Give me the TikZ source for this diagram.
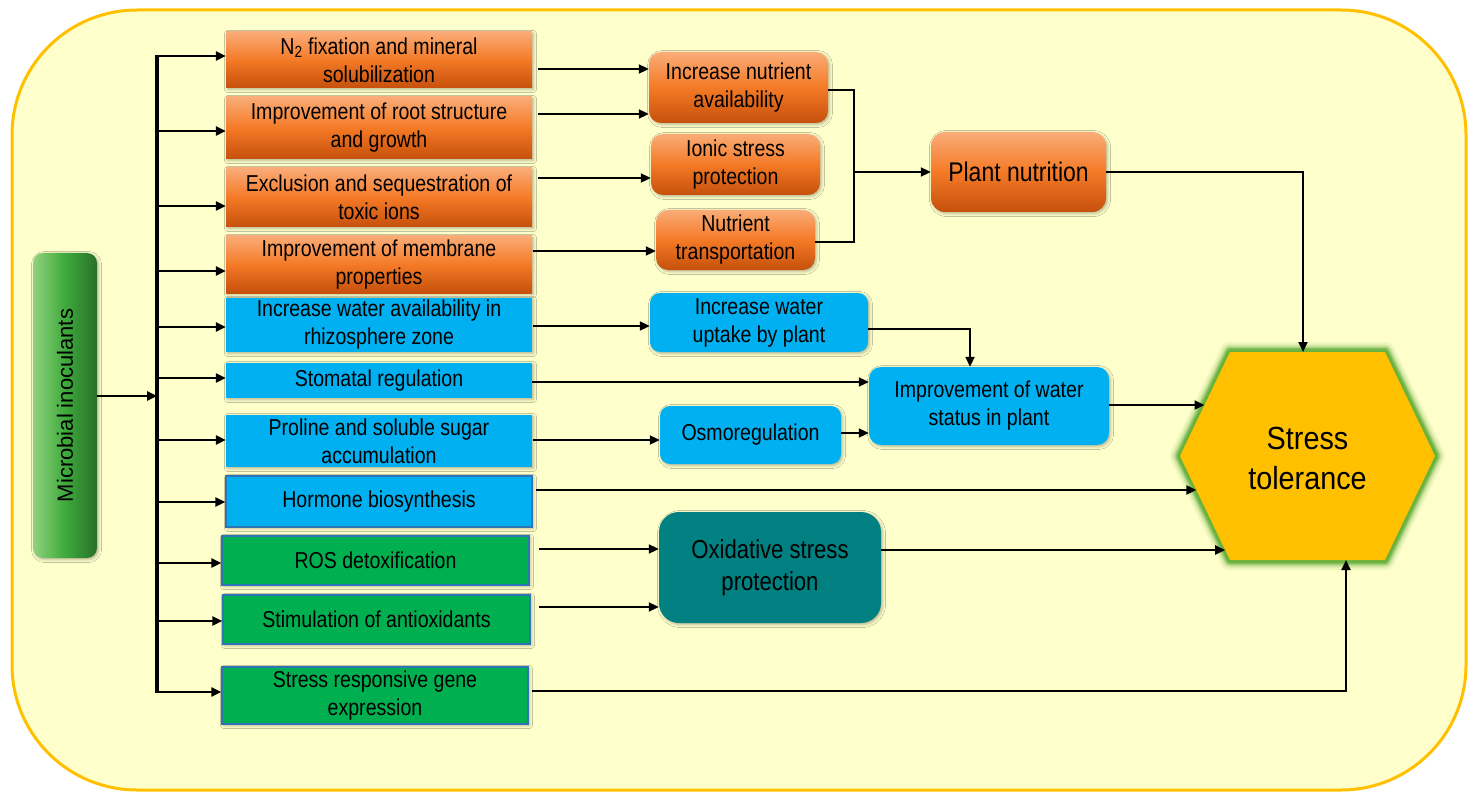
\documentclass[tikz,border=0pt]{standalone}
\usepackage{fontspec}
\setmainfont{Liberation Sans}
\newfontfamily\nar{Liberation Sans}[FakeStretch=0.85]
\newfontfamily\hexfont{Liberation Sans}[FakeStretch=0.9]
\usetikzlibrary{arrows.meta,calc,shadows.blur}
\definecolor{bgy}{RGB}{255,255,204}
\definecolor{gold}{RGB}{255,192,0}
\definecolor{sky}{RGB}{0,176,240}
\definecolor{grn}{RGB}{0,176,80}
\definecolor{tealbox}{RGB}{0,128,128}
\definecolor{bord}{RGB}{46,117,182}
\definecolor{glowc}{RGB}{100,175,60}
\definecolor{ortop}{RGB}{250,172,120}
\definecolor{ormid}{RGB}{244,122,38}
\definecolor{orbot}{RGB}{198,80,12}
\definecolor{mgl}{RGB}{145,210,125}
\definecolor{mgm}{RGB}{62,170,60}
\definecolor{mgd}{RGB}{40,112,40}
\tikzset{
 txt/.style={align=center, inner sep=1pt, font=\nar\fontsize{23}{28}\selectfont, text=black},
 shad/.style={blur shadow={shadow xshift=1.5pt, shadow yshift=-1.5pt, shadow blur radius=3pt, shadow opacity=30}},
 obox/.style={txt, shad, top color=ortop, bottom color=orbot, middle color=ormid},
 bbox/.style={txt, shad, fill=sky},
 gbox/.style={txt, shad, fill=grn, draw=bord, line width=1.5pt},
 arr/.style={line width=2.4pt, -{Triangle[length=10pt,width=9pt]}},
 arr2/.style={line width=2pt, -{Triangle[length=10pt,width=9pt]}},
 ln/.style={line width=2pt},
 hexglow/.style={glowc, line join=round},
}
\begin{document}
\begin{tikzpicture}[x=1pt,y=-1pt]
\useasboundingbox (0,0) rectangle (1478,805);
% outer frame
\draw[line width=3pt, draw=gold, fill=bgy]
  (12,135) arc[start angle=180, end angle=90, radius=125pt]
  -- (1341,10) arc[start angle=90, end angle=0, radius=125pt]
  -- (1466,665) arc[start angle=0, end angle=-90, radius=125pt]
  -- (137,790) arc[start angle=-90, end angle=-180, radius=125pt]
  -- cycle;

% microbial inoculants
\node[shad, left color=mgl, right color=mgd, middle color=mgm, rounded corners=10pt,
      minimum width=64pt, minimum height=305pt] (mi) at (65,405.5) {};
\node[rotate=90, font=\fontsize{22}{26}\selectfont] (mit) at (mi.center) {Microbial inoculants};

% left boxes
\node[obox, minimum width=306pt, minimum height=56pt] (b1) at (379,60) {N\textsubscript{2} fixation and mineral\\solubilization};
\node[obox, minimum width=306pt, minimum height=62pt] (b2) at (379,128) {Improvement of root structure\\and growth};
\node[obox, minimum width=306pt, minimum height=59pt] (b3) at (379,197.5) {Exclusion and sequestration of\\toxic ions};
\node[obox, minimum width=306pt, minimum height=57pt] (b4) at (379,264.5) {Improvement of membrane\\properties};
\node[bbox, minimum width=306pt, minimum height=54pt] (b5) at (379,325) {Increase water availability in\\rhizosphere zone};
\node[bbox, minimum width=306pt, minimum height=35pt] (b6) at (379,380.5) {Stomatal regulation};
\node[bbox, minimum width=306pt, minimum height=52pt] (b7) at (379,441) {Proline and soluble sugar\\accumulation};
\node[bbox, draw=bord, line width=1.5pt, minimum width=306pt, minimum height=51pt] (b8) at (379,501.5) {Hormone biosynthesis};
\node[gbox, minimum width=307pt, minimum height=49pt] (b9) at (375.5,560.5) {ROS detoxification};
\node[gbox, minimum width=307pt, minimum height=49pt] (b10) at (376.5,619.5) {Stimulation of antioxidants};
\node[gbox, minimum width=306pt, minimum height=57pt] (b11) at (375,695.5) {Stress responsive gene\\expression};

% middle boxes
\node[obox, rounded corners=12pt, minimum width=179pt, minimum height=71pt] (na) at (738.5,87.5) {Increase nutrient\\availability};
\node[obox, rounded corners=12pt, minimum width=169pt, minimum height=61pt] (ion) at (735.5,164.5) {Ionic stress\\protection};
\node[obox, rounded corners=12pt, minimum width=159pt, minimum height=60pt] (nt) at (735.5,240) {Nutrient\\transportation};
\node[obox, rounded corners=14pt, minimum width=175pt, minimum height=80pt, font=\nar\fontsize{27}{32}\selectfont] (pn) at (1018.5,172) {Plant nutrition};
\node[bbox, rounded corners=10pt, minimum width=218pt, minimum height=59pt] (wu) at (759,322.5) {Increase water\\uptake by plant};
\node[bbox, rounded corners=12pt, minimum width=240pt, minimum height=78pt] (ws) at (989,406) {Improvement of water\\status in plant};
\node[bbox, rounded corners=10pt, minimum width=181pt, minimum height=58pt] (os) at (750.5,435) {Osmoregulation};
\node[txt, shad, fill=tealbox, rounded corners=20pt, minimum width=222pt, minimum height=111pt, font=\nar\fontsize{26}{32}\selectfont] (ox) at (770,567.5) {Oxidative stress\\protection};

% hexagon
\coordinate (hL) at (1180,456);
\coordinate (hTL) at (1230,352);
\coordinate (hTR) at (1385,352);
\coordinate (hR) at (1435,456);
\coordinate (hBR) at (1385,560);
\coordinate (hBL) at (1230,560);
\foreach \w/\o in {20/0.1, 15/0.2, 11/0.35, 8/0.6, 5/0.85}{
  \draw[hexglow, line width=\w pt, opacity=\o] (hL)--(hTL)--(hTR)--(hR)--(hBR)--(hBL)--cycle;
}
\fill[gold] (hL)--(hTL)--(hTR)--(hR)--(hBR)--(hBL)--cycle;
\node[align=center, font=\hexfont\fontsize{32}{40}\selectfont] (st) at (1307.5,458) {Stress\\tolerance};

% trunk and branches
\coordinate (tT) at (157,55);
\coordinate (tB) at (157,693);
\coordinate (tM) at (157,396);
\draw[line width=3.8pt] (tT) -- (tB);
\foreach \b/\y in {b1/56, b2/131, b3/206, b4/271, b5/327, b6/378, b7/440, b8/502, b9/563, b10/621, b11/692}{
  \coordinate (t\b) at (157,\y);
  \draw[arr] (t\b) -- (\b.west |- t\b);
}
\draw[arr] (mi.east |- tM) -- (tM);

% left boxes -> middle boxes
\draw[arr2, shorten <=6pt] (b1.east |- 0,69) -- (na.west |- 0,69);
\draw[arr2, shorten <=6pt] (b2.east |- 0,114) -- (na.west |- 0,114);
\draw[arr2, shorten <=6pt] (b3.east |- 0,178) -- (ion.west |- 0,178);
\draw[arr2, shorten <=1pt] (b4.east |- 0,251) -- (nt.west |- 0,251);
\draw[arr2, shorten <=1pt] (b5.east |- 0,326) -- (wu.west |- 0,326);
\draw[arr2] (b6.east |- 0,382) -- (ws.west |- 0,382);
\draw[arr2, shorten <=1pt] (b7.east |- 0,440) -- (os.west |- 0,440);
\draw[arr2, shorten <=9pt] (b9.east |- 0,549) -- (ox.west |- 0,549);
\draw[arr2, shorten <=8pt] (b10.east |- 0,607) -- (ox.west |- 0,607);

% nutrition bracket
\coordinate (brk) at (854,172);
\draw[ln] (na.east |- 0,90) -| (brk) |- (nt.east |- 0,242);
\draw[arr2] (brk) -- (pn.west |- brk);
\coordinate (hTop) at (1303,352);
\draw[arr2] (pn.east) -| (hTop);

% water connectors
\draw[arr2] (wu.east |- 0,329) -| (ws.north -| 970,0);
\draw[arr2] (os.east |- 0,433) -- (ws.west |- 0,433);

% to hexagon
\coordinate (hw) at ($(hL)!0.49!(hTL)$);
\coordinate (hh) at ($(hL)!0.327!(hBL)$);
\coordinate (ho) at ($(hL)!0.904!(hBL)$);
\coordinate (hb) at (1346,560);
\draw[arr2] (hw -| ws.east) -- (hw);
\draw[arr2, shorten <=3pt] (hh -| b8.east) -- (hh);
\draw[arr2] (ho -| ox.east) -- (ho);
\draw[arr2, shorten <=3pt] (b11.east |- 0,691) -| (hb);
\end{tikzpicture}
\end{document}
